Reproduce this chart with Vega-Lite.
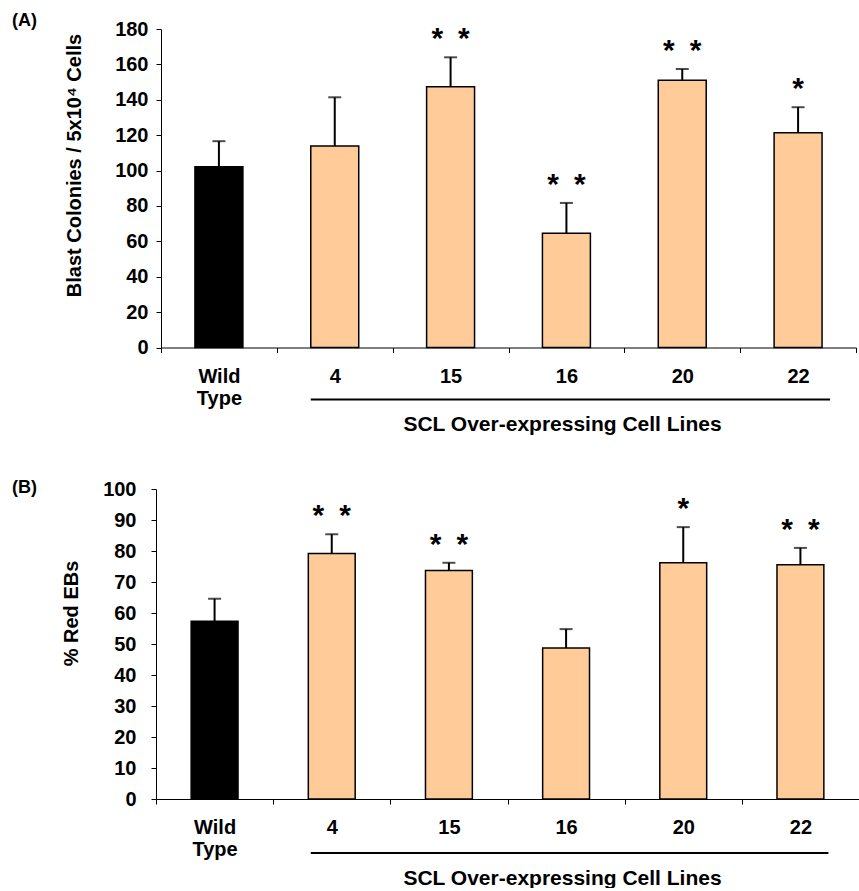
{
  "$schema": "https://vega.github.io/schema/vega-lite/v6.json",
  "padding": {"left": 12, "top": 12, "right": 0, "bottom": 0},
  "background": "white",
  "config": {
    "font": "Liberation Sans",
    "view": {"stroke": null},
    "axis": {"domainColor": "black", "tickColor": "black", "labelColor": "black", "titleColor": "black", "labelFontWeight": "bold", "titleFontWeight": "bold", "grid": false, "tickSize": 5, "domainWidth": 1, "tickWidth": 1, "labelOverlap": false, "labelFontSize": 20}
  },
  "columns": 1,
  "spacing": 44,
  "concat": [
    {
      "title": {"text": "(A)", "anchor": "start", "frame": "group", "dx": -149, "offset": -11, "fontSize": 18, "fontWeight": "bold", "color": "black"},
      "width": 695,
      "height": 318.5,
      "data": {"values": [
        {"line": "Wild Type", "group": "wt", "mean": 102.2, "err": 116.6, "sig": ""},
        {"line": "4", "group": "scl", "mean": 113.9, "err": 141.4, "sig": ""},
        {"line": "15", "group": "scl", "mean": 147.3, "err": 164.0, "sig": "*\u2002*"},
        {"line": "16", "group": "scl", "mean": 64.6, "err": 81.7, "sig": "*\u2002*"},
        {"line": "20", "group": "scl", "mean": 151.0, "err": 157.4, "sig": "*\u2002*"},
        {"line": "22", "group": "scl", "mean": 121.3, "err": 135.8, "sig": "*"}
      ]},
      "encoding": {
        "x": {"field": "line", "type": "nominal",
          "scale": {"domain": ["Wild Type", "4", "15", "16", "20", "22"], "paddingInner": 0, "paddingOuter": 0},
          "axis": {"title": "SCL Over-expressing Cell Lines", "titleX": 401, "titleY": 83, "titleBaseline": "alphabetic", "titleFontSize": 21,
            "labelAngle": 0, "labelFontSize": 20, "labelLineHeight": 22, "labelPadding": 14, "labelBaseline": "top",
            "labelExpr": "datum.value == 'Wild Type' ? ['Wild', 'Type'] : datum.value", "tickBand": "extent"}}
      },
      "layer": [
        {
          "mark": {"type": "bar", "width": {"band": 0.414}, "stroke": "black", "strokeWidth": 1.5},
          "encoding": {
            "y": {"field": "mean", "type": "quantitative", "scale": {"domain": [0, 180], "nice": false},
              "axis": {"values": [0, 20, 40, 60, 80, 100, 120, 140, 160, 180], "labelFontSize": 20, "labelPadding": 8, "labelOverlap": false,
                "title": "Blast Colonies / 5x10\u2074 Cells", "titleFontSize": 20, "titleX": -87, "titleY": 136, "titleAlign": "center", "titleBaseline": "middle"}},
            "color": {"field": "group", "type": "nominal", "scale": {"domain": ["wt", "scl"], "range": ["black", "#FFCC99"]}, "legend": null}
          }
        },
        {
          "mark": {"type": "rule", "color": "black", "strokeWidth": 2},
          "encoding": {"y": {"field": "mean", "type": "quantitative",
              "axis": {"values": [0, 20, 40, 60, 80, 100, 120, 140, 160, 180], "labelFontSize": 20, "labelPadding": 8, "labelOverlap": false,
                "title": "Blast Colonies / 5x10\u2074 Cells", "titleFontSize": 20, "titleX": -87, "titleY": 136, "titleAlign": "center", "titleBaseline": "middle"}},
            "y2": {"field": "err"}}
        },
        {
          "mark": {"type": "tick", "color": "black", "size": 13, "thickness": 2},
          "encoding": {"y": {"field": "err", "type": "quantitative",
              "axis": {"values": [0, 20, 40, 60, 80, 100, 120, 140, 160, 180], "labelFontSize": 20, "labelPadding": 8, "labelOverlap": false,
                "title": "Blast Colonies / 5x10\u2074 Cells", "titleFontSize": 20, "titleX": -87, "titleY": 136, "titleAlign": "center", "titleBaseline": "middle"}}}
        },
        {
          "mark": {"type": "text", "fontSize": 30, "fontWeight": "bold", "baseline": "alphabetic", "dy": -9, "color": "black"},
          "encoding": {"y": {"field": "err", "type": "quantitative",
              "axis": {"values": [0, 20, 40, 60, 80, 100, 120, 140, 160, 180], "labelFontSize": 20, "labelPadding": 8, "labelOverlap": false,
                "title": "Blast Colonies / 5x10\u2074 Cells", "titleFontSize": 20, "titleX": -87, "titleY": 136, "titleAlign": "center", "titleBaseline": "middle"}},
            "text": {"field": "sig"}}
        },
        {
          "data": {"values": [{"from": "4", "to": "22"}]},
          "mark": {"type": "rule", "color": "black", "strokeWidth": 2, "xOffset": -24, "x2Offset": 32, "yOffset": 52},
          "encoding": {"x": {"field": "from", "type": "nominal"}, "x2": {"field": "to"},
            "y": {"datum": 0, "type": "quantitative",
              "axis": {"values": [0, 20, 40, 60, 80, 100, 120, 140, 160, 180], "labelFontSize": 20, "labelPadding": 8, "labelOverlap": false,
                "title": "Blast Colonies / 5x10\u2074 Cells", "titleFontSize": 20, "titleX": -87, "titleY": 136, "titleAlign": "center", "titleBaseline": "middle"}}}
        }
      ]
    },
    {
      "title": {"text": "(B)", "anchor": "start", "frame": "group", "dx": -149, "offset": -18, "fontSize": 18, "fontWeight": "bold", "color": "black"},
      "width": 703,
      "height": 310,
      "data": {"values": [
        {"line": "Wild Type", "group": "wt", "mean": 57.3, "err": 64.6, "sig": ""},
        {"line": "4", "group": "scl", "mean": 79.2, "err": 85.4, "sig": "*\u2002*"},
        {"line": "15", "group": "scl", "mean": 73.7, "err": 76.2, "sig": "*\u2002*"},
        {"line": "16", "group": "scl", "mean": 48.7, "err": 54.8, "sig": ""},
        {"line": "20", "group": "scl", "mean": 76.2, "err": 87.7, "sig": "*"},
        {"line": "22", "group": "scl", "mean": 75.6, "err": 81.0, "sig": "*\u2002*"}
      ]},
      "encoding": {
        "x": {"field": "line", "type": "nominal",
          "scale": {"domain": ["Wild Type", "4", "15", "16", "20", "22"], "paddingInner": 0, "paddingOuter": 0, "range": [-5, 698]},
          "axis": {"title": "SCL Over-expressing Cell Lines", "titleX": 401, "titleY": 85, "titleBaseline": "alphabetic", "titleFontSize": 21,
            "labelAngle": 0, "labelFontSize": 20, "labelLineHeight": 22, "labelPadding": 13, "labelBaseline": "top",
            "labelExpr": "datum.value == 'Wild Type' ? ['Wild', 'Type'] : datum.value", "tickBand": "extent"}}
      },
      "layer": [
        {
          "mark": {"type": "bar", "width": {"band": 0.4}, "stroke": "black", "strokeWidth": 1.5},
          "encoding": {
            "y": {"field": "mean", "type": "quantitative", "scale": {"domain": [0, 100], "nice": false},
              "axis": {"values": [0, 10, 20, 30, 40, 50, 60, 70, 80, 90, 100], "offset": 5, "labelFontSize": 20, "labelPadding": 15, "labelOverlap": false,
                "title": "% Red EBs", "titleFontSize": 20, "titleX": -85, "titleY": 124, "titleAlign": "center", "titleBaseline": "middle"}},
            "color": {"field": "group", "type": "nominal", "scale": {"domain": ["wt", "scl"], "range": ["black", "#FFCC99"]}, "legend": null}
          }
        },
        {
          "mark": {"type": "rule", "color": "black", "strokeWidth": 2},
          "encoding": {"y": {"field": "mean", "type": "quantitative",
              "axis": {"values": [0, 10, 20, 30, 40, 50, 60, 70, 80, 90, 100], "offset": 5, "labelFontSize": 20, "labelPadding": 15, "labelOverlap": false,
                "title": "% Red EBs", "titleFontSize": 20, "titleX": -85, "titleY": 124, "titleAlign": "center", "titleBaseline": "middle"}},
            "y2": {"field": "err"}}
        },
        {
          "mark": {"type": "tick", "color": "black", "size": 13, "thickness": 2},
          "encoding": {"y": {"field": "err", "type": "quantitative",
              "axis": {"values": [0, 10, 20, 30, 40, 50, 60, 70, 80, 90, 100], "offset": 5, "labelFontSize": 20, "labelPadding": 15, "labelOverlap": false,
                "title": "% Red EBs", "titleFontSize": 20, "titleX": -85, "titleY": 124, "titleAlign": "center", "titleBaseline": "middle"}}}
        },
        {
          "mark": {"type": "text", "fontSize": 30, "fontWeight": "bold", "baseline": "alphabetic", "dy": -9, "color": "black"},
          "encoding": {"y": {"field": "err", "type": "quantitative",
              "axis": {"values": [0, 10, 20, 30, 40, 50, 60, 70, 80, 90, 100], "offset": 5, "labelFontSize": 20, "labelPadding": 15, "labelOverlap": false,
                "title": "% Red EBs", "titleFontSize": 20, "titleX": -85, "titleY": 124, "titleAlign": "center", "titleBaseline": "middle"}},
            "text": {"field": "sig"}}
        },
        {
          "data": {"values": [{"from": "4", "to": "22"}]},
          "mark": {"type": "rule", "color": "black", "strokeWidth": 2, "xOffset": -21, "x2Offset": 28, "yOffset": 54},
          "encoding": {"x": {"field": "from", "type": "nominal"}, "x2": {"field": "to"},
            "y": {"datum": 0, "type": "quantitative",
              "axis": {"values": [0, 10, 20, 30, 40, 50, 60, 70, 80, 90, 100], "offset": 5, "labelFontSize": 20, "labelPadding": 15, "labelOverlap": false,
                "title": "% Red EBs", "titleFontSize": 20, "titleX": -85, "titleY": 124, "titleAlign": "center", "titleBaseline": "middle"}}}
        }
      ]
    }
  ]
}
